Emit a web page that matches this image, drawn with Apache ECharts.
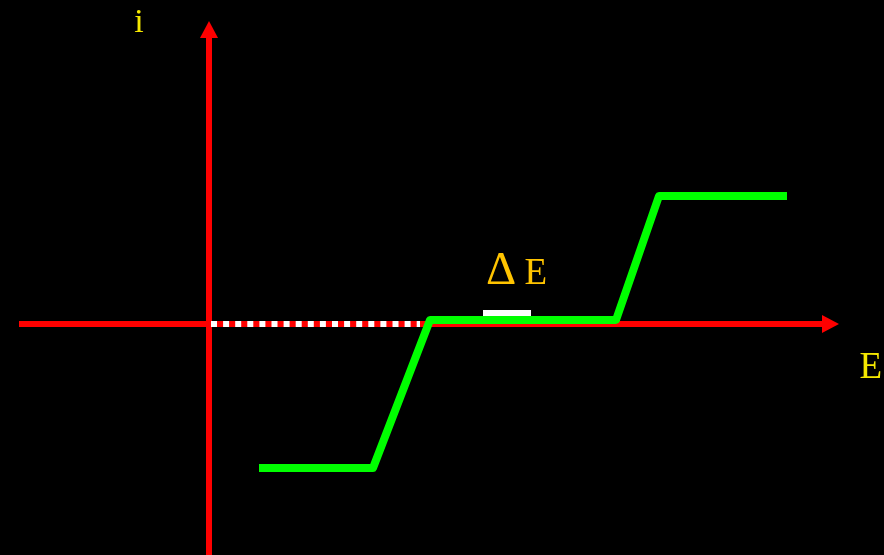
<!DOCTYPE html>
<html>
<head>
<meta charset="utf-8">
<script src="https://cdn.jsdelivr.net/npm/echarts@6/dist/echarts.min.js"></script>
<style>
  html, body { margin: 0; padding: 0; background: #000; }
  #chart { width: 884px; height: 555px; }
</style>
</head>
<body>
<div id="chart"></div>
<script>
// axis ranges (E, i) -- 1 unit = 10px on screen
const eRange = [-19, 62.15]
const iRange = [-23.1, 29.45]

// current-potential curve (two waves)
const curveE = [5, 16.4, 22.1, 40.7, 45, 57.8]
const curveI = [-14.4, -14.4, 0.4, 0.4, 12.8, 12.8]

// dashed part of E axis, and the ΔE bar
const dashE = [0.2, 21.1]
const deltaE = [27.4, 32.2]
const deltaI = 1.1

const chart = echarts.init(document.getElementById('chart'))

const toPairs = (xs, ys) => xs.map((x, k) => [x, Array.isArray(ys) ? ys[k] : ys])

const axisCommon = {
  type: 'value',
  axisLine: {
    onZero: true,
    symbol: ['none', 'triangle'],
    symbolSize: [18, 17],
    lineStyle: { color: '#ff0000', width: 6, cap: 'butt' }
  },
  axisTick: { show: false },
  axisLabel: { show: false },
  splitLine: { show: false }
}

chart.setOption({
  backgroundColor: '#000',
  animation: false,
  grid: { left: 19, right: 884 - 830.5, top: 29.5, bottom: 0 },
  xAxis: Object.assign({ min: eRange[0], max: eRange[1] }, axisCommon),
  yAxis: Object.assign({ min: iRange[0], max: iRange[1] }, axisCommon),
  series: [
    {
      type: 'line',
      data: toPairs(dashE, 0),
      symbol: 'none',
      z: 3,
      lineStyle: { color: '#ffffff', width: 6, type: [6, 6.1], cap: 'butt' }
    },
    {
      type: 'line',
      data: toPairs(curveE, curveI),
      symbol: 'none',
      z: 4,
      lineStyle: { color: '#00ff00', width: 8, cap: 'butt', join: 'round' }
    },
    {
      type: 'line',
      data: toPairs(deltaE, deltaI),
      symbol: 'none',
      z: 4,
      lineStyle: { color: '#ffffff', width: 6, cap: 'butt' }
    }
  ],
  graphic: [
    {
      type: 'text', x: 139, y: 22.6,
      style: { text: 'i', font: '34px "Liberation Serif"', fill: '#f5e800', align: 'center', verticalAlign: 'middle' }
    },
    {
      type: 'text', x: 859.5, y: 368.5,
      style: { text: 'E', font: '37px "Liberation Serif"', fill: '#f5e800', align: 'left', verticalAlign: 'middle' }
    },
    {
      type: 'text', x: 501, y: 272,
      style: { text: 'Δ', font: '47px "Liberation Serif"', fill: '#ffc400', align: 'center', verticalAlign: 'middle' }
    },
    {
      type: 'text', x: 524.5, y: 274.7,
      style: { text: 'E', font: '37px "Liberation Serif"', fill: '#ffc400', align: 'left', verticalAlign: 'middle' }
    }
  ]
})
</script>
</body>
</html>
